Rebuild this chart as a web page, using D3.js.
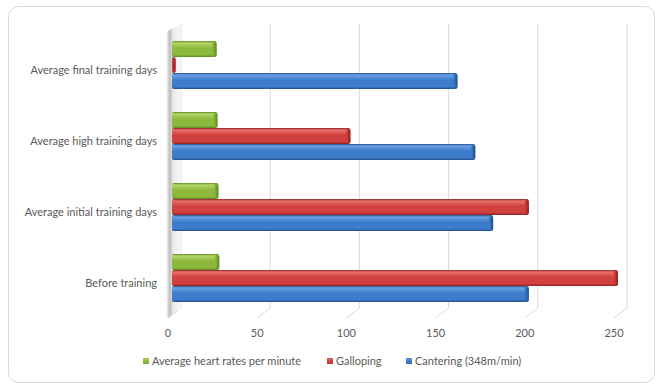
<!DOCTYPE html>
<html>
<head>
<meta charset="utf-8">
<script src="https://cdn.jsdelivr.net/npm/d3@7"></script>
<style>
  body { margin: 0; background: #fff; }
  text { font-family: Lato, "Open Sans", sans-serif; fill: #595959; }
</style>
</head>
<body>
<div id="chart"></div>
<script>
// data
var categories = ['Average final training days', 'Average high training days', 'Average initial training days', 'Before training'];
var heartRates = [25, 25.5, 26, 26.5];
var galloping = [2, 100, 200, 250];
var cantering = [160, 170, 180, 200];
var seriesNames = ['Average heart rates per minute', 'Galloping', 'Cantering (348m/min)'];
var xTicks = [0, 50, 100, 150, 200, 250];

var colors = {
    'Average heart rates per minute': { base: '#8cb83c', light: '#b5d66a', dark: '#5f8a22' },
    'Galloping': { base: '#d0403e', light: '#e9716e', dark: '#8e2220' },
    'Cantering (348m/min)': { base: '#3c7ccb', light: '#6aa2e4', dark: '#234f8c' }
};

var svgWidth = 660;
var svgHeight = 389;

var svg = d3.select('#chart')
    .append('svg')
    .attr('width', svgWidth)
    .attr('height', svgHeight);

var defs = svg.append('defs');

// chart border
svg.append('rect')
    .attr('x', 8.5).attr('y', 6.5)
    .attr('width', 646).attr('height', 376)
    .attr('rx', 10)
    .attr('fill', '#fff')
    .attr('stroke', '#d9d9d9');

var x = d3.scaleLinear()
    .domain([0, 250])
    .range([172, 618]);

var y = d3.scaleBand()
    .domain(categories)
    .range([29.5, 313.5])
    .paddingInner(0.324)
    .paddingOuter(0.162);

var ySub = d3.scaleBand()
    .domain(seriesNames)
    .range([0, y.bandwidth()]);

var wallTop = 24, wallBottom = 308, depth = 9;

// back wall gridlines + floor diagonals
var grid = svg.append('g');
xTicks.forEach(function(t) {
    grid.append('line')
        .attr('x1', x(t) + depth).attr('x2', x(t) + depth)
        .attr('y1', wallTop).attr('y2', wallBottom)
        .attr('stroke', '#d9d9d9');
    grid.append('line')
        .attr('x1', x(t) + depth).attr('y1', wallBottom)
        .attr('x2', x(t) - 4).attr('y2', wallBottom + 10)
        .attr('stroke', '#d9d9d9');
});

// left wall with its shadow
var wallGrad = defs.append('linearGradient').attr('id', 'wallGrad');
wallGrad.append('stop').attr('offset', '0%').attr('stop-color', '#ffffff');
wallGrad.append('stop').attr('offset', '25%').attr('stop-color', '#bdbdbd');
wallGrad.append('stop').attr('offset', '50%').attr('stop-color', '#ececec');
wallGrad.append('stop').attr('offset', '100%').attr('stop-color', '#f7f7f7');
svg.append('path')
    .attr('d', 'M' + (x(0) - 6) + ',' + (wallTop + 8) + 'L' + (x(0) + depth) + ',' + wallTop +
        'L' + (x(0) + depth) + ',' + wallBottom + 'L' + (x(0) - 4) + ',' + (wallBottom + 10) +
        'L' + (x(0) - 6) + ',' + (wallBottom + 10) + 'Z')
    .attr('fill', 'url(#wallGrad)');

// gradients for the bars
seriesNames.forEach(function(s, i) {
    var c = colors[s];
    var g = defs.append('linearGradient')
        .attr('id', 'barGrad' + i)
        .attr('x1', 0).attr('y1', 0).attr('x2', 0).attr('y2', 1);
    g.append('stop').attr('offset', '0%').attr('stop-color', c.dark);
    g.append('stop').attr('offset', '12%').attr('stop-color', c.light);
    g.append('stop').attr('offset', '45%').attr('stop-color', c.base);
    g.append('stop').attr('offset', '85%').attr('stop-color', c.base);
    g.append('stop').attr('offset', '100%').attr('stop-color', c.dark);
    var e = defs.append('linearGradient')
        .attr('id', 'endGrad' + i)
        .attr('x1', 0).attr('y1', 0).attr('x2', 1).attr('y2', 0);
    e.append('stop').attr('offset', '0%').attr('stop-color', c.base);
    e.append('stop').attr('offset', '100%').attr('stop-color', c.dark);
});

var seriesValues = [heartRates, galloping, cantering];

// bars
seriesNames.forEach(function(s, i) {
    var g = svg.append('g');
    var bars = g.selectAll('g')
        .data(categories)
        .enter()
        .append('g')
        .attr('transform', function(d) { return 'translate(0,' + (y(d) + ySub(s)) + ')'; });

    var h = ySub.bandwidth();
    bars.append('rect')
        .attr('x', x(0))
        .attr('y', 0)
        .attr('width', function(d, j) { return Math.max(x(seriesValues[i][j]) - x(0), 1); })
        .attr('height', h)
        .attr('rx', 2)
        .attr('fill', 'url(#barGrad' + i + ')');

    bars.append('rect')
        .attr('x', function(d, j) { return Math.max(x(seriesValues[i][j]) - 4, x(0)); })
        .attr('y', 1)
        .attr('width', function(d, j) { return Math.min(4, x(seriesValues[i][j]) - x(0)); })
        .attr('height', h - 2)
        .attr('rx', 1.5)
        .attr('fill', 'url(#endGrad' + i + ')');
});

// category labels
svg.append('g').selectAll('text')
    .data(categories)
    .enter()
    .append('text')
    .attr('x', 157)
    .attr('y', function(d) { return y(d) + y.bandwidth() / 2 + 9; })
    .attr('text-anchor', 'end')
    .attr('font-size', '11px')
    .text(function(d) { return d; });

// x tick labels
svg.append('g').selectAll('text')
    .data(xTicks)
    .enter()
    .append('text')
    .attr('x', function(d) { return x(d) - 4; })
    .attr('y', 337)
    .attr('text-anchor', 'middle')
    .attr('font-size', '11px')
    .text(function(d) { return d; });

// legend
var legendX = [143, 327, 406];
var legend = svg.append('g');
seriesNames.forEach(function(s, i) {
    legend.append('rect')
        .attr('x', legendX[i]).attr('y', 358)
        .attr('width', 6).attr('height', 6)
        .attr('fill', 'url(#barGrad' + i + ')');
    legend.append('text')
        .attr('x', legendX[i] + 9)
        .attr('y', 365)
        .attr('font-size', '11px')
        .text(s);
});
</script>
</body>
</html>
